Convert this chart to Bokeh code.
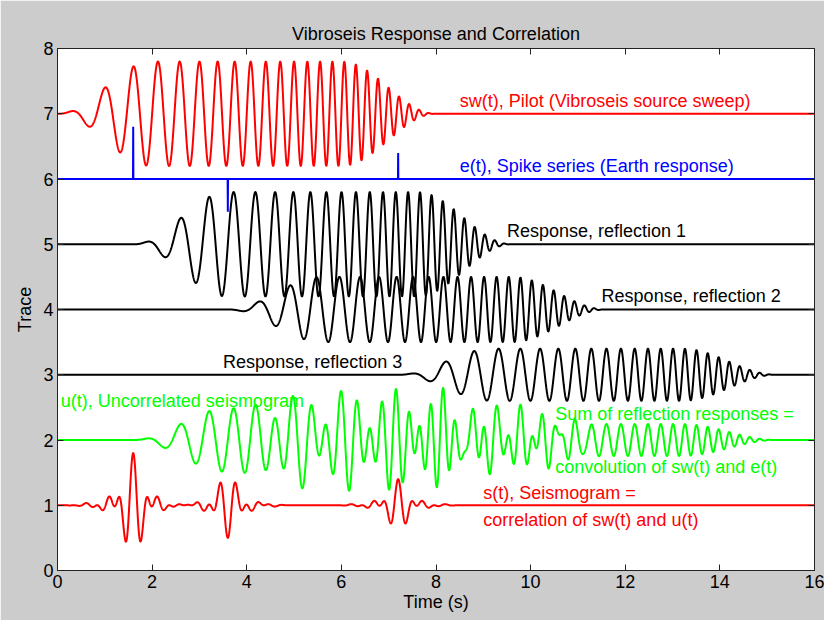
import numpy as np
from bokeh.plotting import figure
from bokeh.models import LinearAxis, FixedTicker, Range1d
from bokeh.embed import file_html
from bokeh.resources import INLINE
from bokeh.core.properties import value

# ---------------- data ----------------
DT = 0.004                      # sample interval (s)
T_END = 16.0                    # record length (s)
SWEEP_F_START = 1.0             # pilot sweep start frequency (Hz)
SWEEP_F_END = 5.0               # pilot sweep end frequency (Hz)
SWEEP_LENGTH = 8.0              # pilot sweep length (s)
SWEEP_TAPER = 2.0               # cosine taper at each end (s)
PILOT_AMP = 0.8                 # displayed pilot amplitude
SPIKE_TIMES = [1.6, 3.6, 7.2]   # reflection times (s)
SPIKE_AMPS = [0.8, -0.5, 0.4]   # reflection coefficients
DISPLAY_PEAK = 0.8              # normalised peak of u(t) and s(t)

LEVEL_PILOT = 7
LEVEL_SPIKES = 6
LEVEL_RESPONSES = [5, 4, 3]
LEVEL_U = 2
LEVEL_S = 1

X_TICKS = [0, 2, 4, 6, 8, 10, 12, 14, 16]
Y_TICKS = [0, 1, 2, 3, 4, 5, 6, 7, 8]

TITLE = "Vibroseis Response and Correlation"
X_LABEL = "Time (s)"
Y_LABEL = "Trace"

LABEL_TEXTS = ["sw(t), Pilot (Vibroseis source sweep)",
               "e(t), Spike series (Earth response)",
               "Response, reflection 1",
               "Response, reflection 2",
               "Response, reflection 3",
               "u(t), Uncorrelated seismogram",
               "Sum of reflection responses =",
               "convolution of sw(t) and e(t)",
               "s(t), Seismogram =",
               "correlation of sw(t) and u(t)"]
LABEL_X = [8.5, 8.5, 9.5, 11.5, 3.5, 0.07, 10.52, 10.52, 9.0, 9.0]
LABEL_Y = [7.2, 6.2, 5.2, 4.2, 3.2, 2.6, 2.4, 1.58, 1.19, 0.77]
LABEL_COLORS = ["#ff0000", "#0000ff", "black", "black", "black",
                "#00ff00", "#00ff00", "#00ff00", "#ff0000", "#ff0000"]

# ---------------- signals ----------------
t = np.arange(0.0, T_END + DT / 2, DT)
n = len(t)
ts = t[t <= SWEEP_LENGTH + 1e-9]
rate = (SWEEP_F_END - SWEEP_F_START) / SWEEP_LENGTH
phase = 2 * np.pi * (SWEEP_F_START * ts + 0.5 * rate * ts ** 2)
env = np.ones_like(ts)
up = ts < SWEEP_TAPER
env[up] = 0.5 * (1 - np.cos(np.pi * ts[up] / SWEEP_TAPER))
dn = ts > SWEEP_LENGTH - SWEEP_TAPER
env[dn] = 0.5 * (1 + np.cos(np.pi * (ts[dn] - (SWEEP_LENGTH - SWEEP_TAPER)) / SWEEP_TAPER))
sweep = env * np.sin(phase)

pilot = np.zeros(n)
pilot[:len(sweep)] = PILOT_AMP * sweep

spikes = np.zeros(n)
responses = []
for tk, ak in zip(SPIKE_TIMES, SPIKE_AMPS):
    i0 = int(round(tk / DT))
    spikes[i0] = ak
    r = np.zeros(n)
    m = min(len(sweep), n - i0)
    r[i0:i0 + m] = ak * sweep[:m]
    responses.append(r)

u = np.sum(responses, axis=0)
full = np.correlate(u, sweep, mode="full")
s = full[len(sweep) - 1:len(sweep) - 1 + n]
u_disp = u / np.max(np.abs(u)) * DISPLAY_PEAK
s_disp = s / np.max(np.abs(s)) * DISPLAY_PEAK

# ---------------- figure ----------------
FONT = "Liberation Sans"
p = figure(width=824, height=620,
           x_range=Range1d(0, 16), y_range=Range1d(0, 8),
           output_backend="svg", toolbar_location=None,
           min_border_left=57, min_border_right=10,
           min_border_top=48, min_border_bottom=50,
           title=TITLE)
p.border_fill_color = "#cccccc"
p.background_fill_color = "white"
p.outline_line_color = "#222222"
p.outline_line_width = 1
p.grid.visible = False

p.title.text_font = FONT
p.title.text_font_size = "18px"
p.title.text_font_style = "normal"
p.title.align = "center"
p.title.text_color = "black"

xa = p.below[0]
ya = p.left[0]
for ax, ticks in ((xa, X_TICKS), (ya, Y_TICKS)):
    ax.ticker = FixedTicker(ticks=ticks)
    ax.minor_tick_line_color = None
    ax.major_tick_in = 6
    ax.major_tick_out = 0
    ax.major_tick_line_color = "#222222"
    ax.axis_line_color = "#222222"
    ax.major_label_text_font = FONT
    ax.major_label_text_font_size = "18px"
    ax.major_label_text_color = "black"
    ax.axis_label_text_font = FONT
    ax.axis_label_text_font_size = "18px"
    ax.axis_label_text_font_style = "normal"
    ax.axis_label_text_color = "black"
xa.axis_label = X_LABEL
ya.axis_label = Y_LABEL
xa.major_label_standoff = 4
xa.axis_label_standoff = 1
ya.major_label_standoff = 4
ya.axis_label_standoff = 5

# tick marks only (no labels) on the top and right edges, as in a boxed axes
for loc, ticks in (("right", Y_TICKS), ("above", X_TICKS)):
    ax = LinearAxis(ticker=FixedTicker(ticks=ticks))
    ax.major_label_text_font_size = "2px"
    ax.major_label_text_color = None
    ax.major_label_standoff = 0
    ax.minor_tick_line_color = None
    ax.major_tick_in = 6
    ax.major_tick_out = 0
    ax.major_tick_line_color = "#222222"
    ax.axis_line_color = None
    p.add_layout(ax, loc)

LW = 2
p.line(t, LEVEL_PILOT + pilot, line_color="#ff0000", line_width=LW)
p.line(t, LEVEL_SPIKES + spikes, line_color="#0000ff", line_width=LW)
for lvl, r in zip(LEVEL_RESPONSES, responses):
    p.line(t, lvl + r, line_color="black", line_width=LW)
p.line(t, LEVEL_U + u_disp, line_color="#00ff00", line_width=LW)
p.line(t, LEVEL_S + s_disp, line_color="#ff0000", line_width=LW)

p.text(x=LABEL_X, y=LABEL_Y, text=LABEL_TEXTS, text_color=LABEL_COLORS,
       text_font=value(FONT), text_font_size="18px",
       text_align="left", text_baseline="middle")

open("out.html", "w").write(file_html(p, INLINE))
